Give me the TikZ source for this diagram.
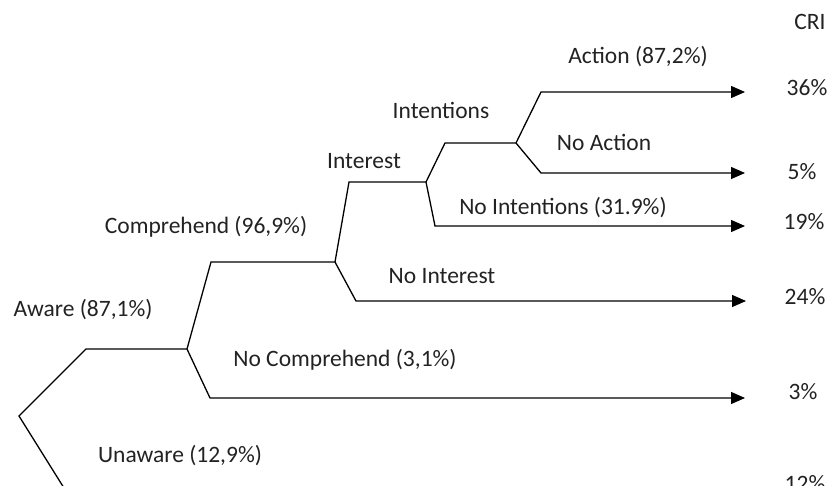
\documentclass[tikz,border=0pt]{standalone}
\usepackage{fontspec}
\setmainfont{Carlito}
\usetikzlibrary{arrows.meta}
\definecolor{txt}{HTML}{222222}
\tikzset{
  lbl/.style={inner sep=0pt, text=txt, font=\fontsize{23.5}{26}\selectfont},
  br/.style={line width=1.3pt, black},
  arr/.style={br, -{Triangle[length=14pt,width=12pt]}}
}
\begin{document}
\begin{tikzpicture}[x=1pt,y=-1pt]
\useasboundingbox (0,0) rectangle (829,486);
% junctions and branch ends
\coordinate (R) at (19,416);
\coordinate (A1) at (86,349);
\coordinate (J1) at (187,349);
\coordinate (U1) at (69,496);
\coordinate (C1) at (211,262);
\coordinate (J2) at (335,262);
\coordinate (NC1) at (210,398);
\coordinate (NC2) at (745,398);
\coordinate (I1) at (349,182);
\coordinate (J3) at (426,182);
\coordinate (NI1) at (356,301);
\coordinate (NI2) at (746,301);
\coordinate (T1) at (445,143);
\coordinate (J4) at (516,143);
\coordinate (NT1) at (435,226);
\coordinate (NT2) at (745,226);
\coordinate (AC1) at (541,92);
\coordinate (AC2) at (745,92);
\coordinate (NA1) at (541,173);
\coordinate (NA2) at (745,173);
% branches
\draw[br] (U1) -- (R) -- (A1) -- (J1);
\draw[br] (J1) -- (C1) -- (J2);
\draw[arr] (J1) -- (NC1) -- (NC2);
\draw[br] (J2) -- (I1) -- (J3);
\draw[arr] (J2) -- (NI1) -- (NI2);
\draw[br] (J3) -- (T1) -- (J4);
\draw[arr] (J3) -- (NT1) -- (NT2);
\draw[arr] (J4) -- (AC1) -- (AC2);
\draw[arr] (J4) -- (NA1) -- (NA2);
% labels
\node[lbl] (cri) at (810,22) {CRI};
\node[lbl] (lac) at (638,57) {Action (87,2\%)};
\node[lbl] (p36) at (807,88) {36\%};
\node[lbl] (lint) at (441,110) {Intentions};
\node[lbl] (lna) at (604,142) {No Action};
\node[lbl] (lin) at (364,161) {Interest};
\node[lbl] (p5) at (802,172) {5\%};
\node[lbl] (lnt) at (563,208) {No Intentions (31.9\%)};
\node[lbl] (p19) at (804,222) {19\%};
\node[lbl] (lco) at (206,227) {Comprehend (96,9\%)};
\node[lbl] (lni) at (442,276) {No Interest};
\node[lbl] (p24) at (805,297) {24\%};
\node[lbl] (law) at (83,310) {Aware (87,1\%)};
\node[lbl] (lnc) at (345,360) {No Comprehend (3,1\%)};
\node[lbl] (p3) at (803,392) {3\%};
\node[lbl] (lun) at (180,456) {Unaware (12,9\%)};
\node[lbl] (p12) at (805,484) {12\%};
\end{tikzpicture}
\end{document}
